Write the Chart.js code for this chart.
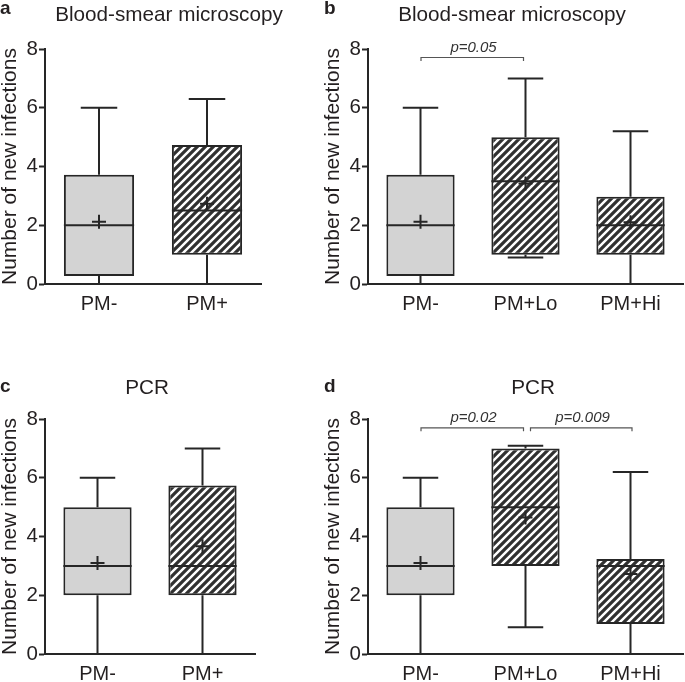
<!DOCTYPE html>
<html>
<head>
<meta charset="utf-8">
<title>Number of new infections</title>
<script src="https://cdn.jsdelivr.net/npm/chart.js@4.4.1/dist/chart.umd.min.js"></script>
<style>
html,body{margin:0;padding:0;background:#fff;width:685px;height:682px;overflow:hidden;}
canvas{position:absolute;}
.t{position:absolute;font-family:"Liberation Sans",Arial,sans-serif;color:#231f20;white-space:nowrap;}
.title{font-size:20.7px;line-height:24px;width:300px;text-align:center;}
.letter{font-size:19px;font-weight:bold;line-height:24px;}
</style>
</head>
<body>
<canvas id="ca" width="271" height="330" style="left:0;top:0"></canvas>
<canvas id="cb" width="363" height="330" style="left:322px;top:0"></canvas>
<canvas id="cc" width="265" height="342" style="left:0;top:340px"></canvas>
<canvas id="cd" width="363" height="342" style="left:322px;top:340px"></canvas>
<div class="t letter" style="left:0;top:-4px">a</div>
<div class="t letter" style="left:324px;top:-4px">b</div>
<div class="t letter" style="left:0;top:374px">c</div>
<div class="t letter" style="left:324px;top:374px">d</div>
<div class="t title" id="ta" style="left:19px;top:2px"></div>
<div class="t title" id="tb" style="left:362px;top:2px"></div>
<div class="t title" id="tc" style="left:-3px;top:375px"></div>
<div class="t title" id="td" style="left:383px;top:375px"></div>
<script>
// ---------- data ----------
const panelTitles = ['Blood-smear microscopy', 'Blood-smear microscopy', 'PCR', 'PCR'];
const yAxisTitle = 'Number of new infections';
const categoriesTwo = ['PM-', 'PM+'];
const categoriesThree = ['PM-', 'PM+Lo', 'PM+Hi'];
const yTickValues = [0, 2, 4, 6, 8];

// panel a: blood-smear, PM- vs PM+
const aMin  = [0, 0];
const aQ1   = [0.27, 1.0];
const aMed  = [2, 2.5];
const aQ3   = [3.72, 4.73];
const aMax  = [6, 6.3];
const aMean = [2.12, 2.73];

// panel b: blood-smear, PM- vs PM+Lo vs PM+Hi
const bMin  = [0, 0.9, 0];
const bQ1   = [0.27, 1.0, 1.0];
const bMed  = [2, 3.5, 2];
const bQ3   = [3.72, 5.0, 2.97];
const bMax  = [6, 7.0, 5.2];
const bMean = [2.12, 3.42, 2.1];
const bBracketFrom  = [0];
const bBracketTo    = [1];
const bBracketLabel = ['p=0.05'];

// panel c: PCR, PM- vs PM+
const cMin  = [0, 0];
const cQ1   = [2, 2];
const cMed  = [3, 3];
const cQ3   = [5, 5.74];
const cMax  = [6, 7.0];
const cMean = [3.1, 3.67];

// panel d: PCR, PM- vs PM+Lo vs PM+Hi
const dMin  = [0, 0.91, 0];
const dQ1   = [2, 3.0, 1.02];
const dMed  = [3, 5.0, 3.0];
const dQ3   = [5, 7.0, 3.23];
const dMax  = [6, 7.09, 6.2];
const dMean = [3.1, 4.65, 2.72];
const dBracketFrom  = [0, 1];
const dBracketTo    = [1, 2];
const dBracketLabel = ['p=0.02', 'p=0.009'];

// ---------- styles ----------
const INK = '#231f20';
const LINE = '#262626';
const GRAY_FILL = '#d3d3d3';
const FONT = '"Liberation Sans", Arial, sans-serif';

document.getElementById('ta').textContent = panelTitles[0];
document.getElementById('tb').textContent = panelTitles[1];
document.getElementById('tc').textContent = panelTitles[2];
document.getElementById('td').textContent = panelTitles[3];

function makeHatch() {
  const s = 8;
  const c = document.createElement('canvas');
  c.width = s; c.height = s;
  const g = c.getContext('2d');
  g.fillStyle = '#ffffff';
  g.fillRect(0, 0, s, s);
  g.strokeStyle = '#303030';
  g.lineWidth = 3.2;
  g.beginPath();
  g.moveTo(-s / 2, s / 2); g.lineTo(s / 2, -s / 2);
  g.moveTo(0, s); g.lineTo(s, 0);
  g.moveTo(s / 2, s * 1.5); g.lineTo(s * 1.5, s / 2);
  g.stroke();
  return g.createPattern(c, 'repeat');
}
const hatch = makeHatch();

const boxPlotPlugin = {
  id: 'boxPlot',
  afterDatasetsDraw(chart, args, o) {
    if (!o || !o.med) return;
    const ctx = chart.ctx;
    const y = chart.scales.y;
    const meta = chart.getDatasetMeta(0);
    ctx.save();
    ctx.strokeStyle = LINE;
    ctx.lineWidth = 2;
    meta.data.forEach((bar, i) => {
      const x = bar.x;
      const half = bar.width / 2;
      const cap = half * 0.52;
      const pQ1 = y.getPixelForValue(o.q1[i]);
      const pQ3 = y.getPixelForValue(o.q3[i]);
      const pMin = y.getPixelForValue(o.min[i]);
      const pMax = y.getPixelForValue(o.max[i]);
      const pMed = y.getPixelForValue(o.med[i]);
      const pMean = y.getPixelForValue(o.mean[i]);
      ctx.beginPath();
      // whiskers
      ctx.moveTo(x, pQ3); ctx.lineTo(x, pMax);
      ctx.moveTo(x - cap, pMax); ctx.lineTo(x + cap, pMax);
      ctx.moveTo(x, pQ1); ctx.lineTo(x, pMin);
      ctx.moveTo(x - cap, pMin); ctx.lineTo(x + cap, pMin);
      // median
      ctx.moveTo(x - half, pMed); ctx.lineTo(x + half, pMed);
      ctx.stroke();
      // mean marker
      ctx.beginPath();
      ctx.lineWidth = 2;
      ctx.moveTo(x - 7, pMean); ctx.lineTo(x + 7, pMean);
      ctx.moveTo(x, pMean - 7); ctx.lineTo(x, pMean + 7);
      ctx.stroke();
    });
    ctx.restore();
  }
};

const bracketPlugin = {
  id: 'brackets',
  afterDraw(chart, args, o) {
    if (!o || !o.from || !o.from.length) return;
    const ctx = chart.ctx;
    const y = chart.scales.y;
    const meta = chart.getDatasetMeta(0);
    const py = y.getPixelForValue(o.level);
    ctx.save();
    ctx.strokeStyle = '#555555';
    ctx.lineWidth = 1.2;
    ctx.fillStyle = '#333333';
    ctx.font = 'italic 15px ' + FONT;
    ctx.textAlign = 'center';
    ctx.textBaseline = 'alphabetic';
    o.from.forEach((f, k) => {
      const t = o.to[k];
      const x1 = meta.data[f].x + (f > 0 ? 5 : 0.5);
      const x2 = meta.data[t].x + (t === meta.data.length - 1 && f > 0 ? 1.5 : -2);
      ctx.beginPath();
      ctx.moveTo(x1, py + 3.5); ctx.lineTo(x1, py); ctx.lineTo(x2, py); ctx.lineTo(x2, py + 3.5);
      ctx.stroke();
      ctx.fillText(o.labels[k], (x1 + x2) / 2 + 1.3, py - 6);
    });
    ctx.restore();
  }
};

function makePanel(id, cats, stats, brackets, lay) {
  const fills = cats.map((c, i) => (i === 0 ? GRAY_FILL : hatch));
  return new Chart(document.getElementById(id), {
    type: 'bar',
    data: {
      labels: cats,
      datasets: [{
        label: yAxisTitle,
        data: cats.map((c, i) => [stats.q1[i], stats.q3[i]]),
        backgroundColor: fills,
        borderColor: LINE,
        borderWidth: 2,
        borderSkipped: false,
        barPercentage: 0.65,
        categoryPercentage: 1.0
      }]
    },
    options: {
      responsive: false,
      animation: false,
      devicePixelRatio: 1,
      layout: { padding: { left: 0, right: lay.right, top: lay.top, bottom: 0 } },
      plugins: {
        legend: { display: false },
        tooltip: { enabled: false },
        title: { display: false },
        boxPlot: stats,
        brackets: brackets
      },
      scales: {
        x: {
          type: 'category',
          offset: true,
          grid: { display: false, drawTicks: false, tickLength: 0 },
          border: { display: true, color: LINE, width: 2 },
          ticks: { color: INK, font: { family: FONT, size: 20 }, padding: 8, maxRotation: 0 },
          afterFit(s) { s.height = lay.xh; }
        },
        y: {
          min: 0, max: 8,
          afterBuildTicks(s) { s.ticks = yTickValues.map(v => ({ value: v })); },
          grid: { display: true, drawOnChartArea: false, drawTicks: true, tickLength: 6, tickWidth: 2, tickColor: LINE },
          border: { display: true, color: LINE, width: 2 },
          ticks: { color: INK, font: { family: FONT, size: 20.5 }, padding: 1 },
          title: {
            display: true, text: yAxisTitle, color: INK,
            font: { family: FONT, size: 21, lineHeight: 1 },
            padding: { top: lay.ytp, bottom: 0 }
          },
          afterFit(s) { s.width = lay.yw; }
        }
      }
    },
    plugins: [boxPlotPlugin, bracketPlugin]
  });
}

makePanel('ca', categoriesTwo,
  { min: aMin, q1: aQ1, med: aMed, q3: aQ3, max: aMax, mean: aMean },
  { from: [], to: [], labels: [] },
  { yw: 45, ytp: -0.5, right: 10, top: 49, xh: 46 });

makePanel('cb', categoriesThree,
  { min: bMin, q1: bQ1, med: bMed, q3: bQ3, max: bMax, mean: bMean },
  { from: bBracketFrom, to: bBracketTo, labels: bBracketLabel, level: 7.71 },
  { yw: 46, ytp: 0.5, right: 2, top: 49, xh: 46 });

makePanel('cc', categoriesTwo,
  { min: cMin, q1: cQ1, med: cMed, q3: cQ3, max: cMax, mean: cMean },
  { from: [], to: [], labels: [] },
  { yw: 45, ytp: -0.5, right: 10, top: 79, xh: 28 });

makePanel('cd', categoriesThree,
  { min: dMin, q1: dQ1, med: dMed, q3: dQ3, max: dMax, mean: dMean },
  { from: dBracketFrom, to: dBracketTo, labels: dBracketLabel, level: 7.70 },
  { yw: 46, ytp: 0.5, right: 2, top: 79, xh: 28 });
</script>
</body>
</html>
